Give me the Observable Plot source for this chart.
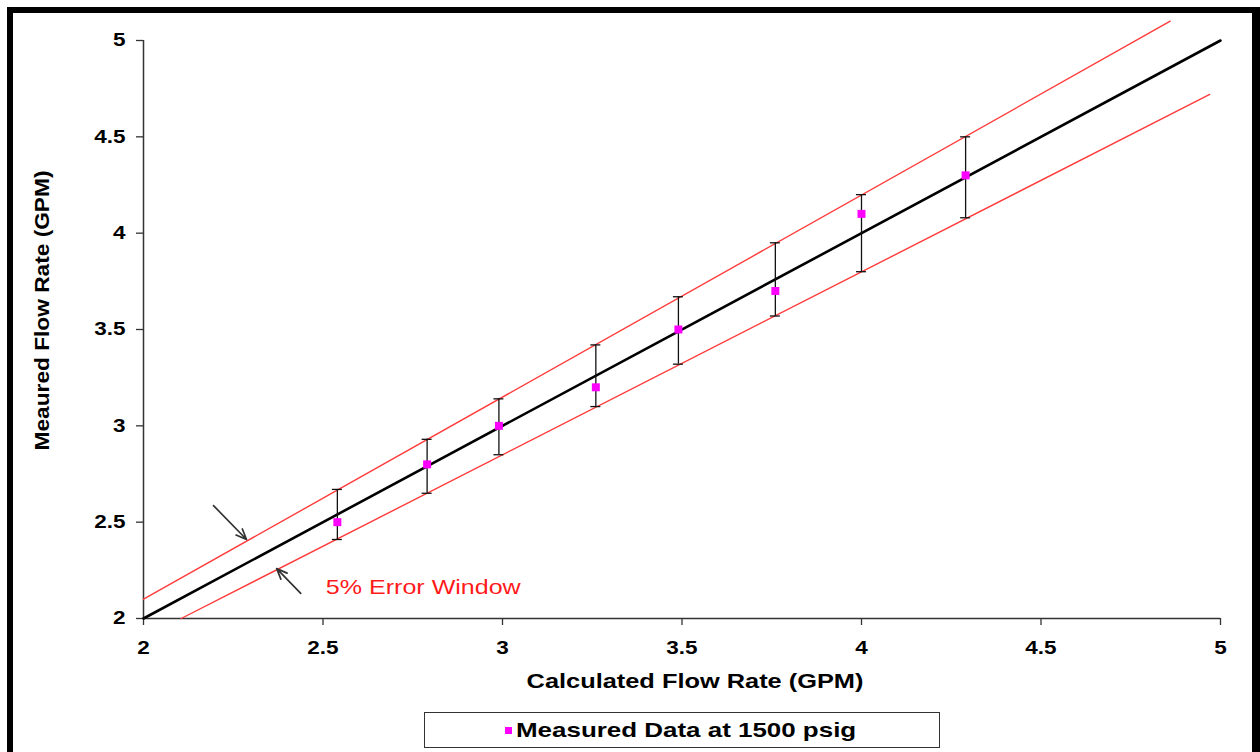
<!DOCTYPE html>
<html>
<head>
<meta charset="utf-8">
<script src="https://cdn.jsdelivr.net/npm/d3@7"></script>
<script src="https://cdn.jsdelivr.net/npm/@observablehq/plot@0.6"></script>
<style>
  html, body { margin: 0; padding: 0; background: #fff; overflow: hidden; width: 1260px; height: 752px; }
  #chart { position: absolute; left: 0; top: 0; }
  #frame { position: absolute; left: 7px; top: 7px; width: 1253px; height: 800px; box-sizing: border-box;
           border-style: solid; border-color: #000; border-width: 6px 8px 0 6px; pointer-events: none; z-index: 5; }
  #legend { position: absolute; left: 424px; top: 712px; width: 516px; height: 36px; box-sizing: border-box;
            border: 1.5px solid #333; background: #fff; font-family: "Liberation Sans", Arial, sans-serif; }
  #legend .sw { position: absolute; left: 80px; top: 14px; width: 7px; height: 7px; background: #ff00ff; }
  #legend .lab { position: absolute; left: 91px; top: 5px; font-size: 21px; font-weight: bold; color: #000;
                 white-space: nowrap; transform: scaleX(1.235); transform-origin: left center; line-height: 24px; }
</style>
</head>
<body>
<div id="chart"></div>
<div id="frame"></div>
<div id="legend"><div class="sw"></div><div class="lab">Measured Data at 1500 psig</div></div>
<script>
// ---- data ----
const calculated = [2.54, 2.79, 2.99, 3.26, 3.49, 3.76, 4.00, 4.29];   // x (GPM)
const measured   = [2.50, 2.80, 3.00, 3.20, 3.50, 3.70, 4.10, 4.30];   // y (GPM)
const errHigh    = [2.67, 2.93, 3.14, 3.42, 3.67, 3.95, 4.20, 4.50];
const errLow     = [2.41, 2.65, 2.85, 3.10, 3.32, 3.57, 3.80, 4.08];

const idealX = [2, 5];        const idealY = [2, 5];
const upperX = [2, 4.86];     const upperY = [2.10, 5.10];
const lowerX = [2.105, 4.97]; const lowerY = [2.00, 4.72];

const arrowFrom = [[2.195, 2.586], [2.438, 2.130]];
const arrowTo   = [[2.287, 2.410], [2.371, 2.259]];

const annotation = {text: "5% Error Window", x: 2.508, y: 2.161};

const xTicks = [2, 2.5, 3, 3.5, 4, 4.5, 5];
const yTicks = [2, 2.5, 3, 3.5, 4, 4.5, 5];
const xLabel = "Calculated Flow Rate (GPM)";
const yLabel = "Meaured Flow Rate (GPM)";

// ---- build tables ----
const points = calculated.map((x, i) => ({x, y: measured[i], lo: errLow[i], hi: errHigh[i]}));
const toLine = (xs, ys) => xs.map((x, i) => ({x, y: ys[i]}));
const arrows = arrowFrom.map((f, i) => ({x1: f[0], y1: f[1], x2: arrowTo[i][0], y2: arrowTo[i][1]}));
const fmt = d => String(d);

const plot = Plot.plot({
  width: 1260,
  height: 700,
  marginLeft: 143,
  marginRight: 40,
  marginTop: 40,
  marginBottom: 82,
  style: {fontFamily: "'Liberation Sans', Arial, sans-serif", fontSize: "18px", fontWeight: "bold", color: "#000", background: "transparent", overflow: "visible"},
  x: {domain: [2, 5], ticks: xTicks, label: null},
  y: {domain: [2, 5], ticks: yTicks, label: null},
  marks: [
    Plot.ruleY([2], {stroke: "#333", strokeWidth: 1.5}),
    Plot.ruleX([2], {stroke: "#333", strokeWidth: 1.5}),
    Plot.axisX({ticks: xTicks, tickFormat: fmt, tickSize: 7, tickPadding: 16, stroke: "#333", strokeWidth: 1.3, label: null, fill: "#000"}),
    Plot.axisY({ticks: yTicks, tickFormat: fmt, tickSize: 7, tickPadding: 11, stroke: "#333", strokeWidth: 1.3, label: null, fill: "#000"}),
    Plot.line(toLine(upperX, upperY), {x: "x", y: "y", stroke: "#ff3b3b", strokeWidth: 1.4}),
    Plot.line(toLine(lowerX, lowerY), {x: "x", y: "y", stroke: "#ff3b3b", strokeWidth: 1.4}),
    Plot.line(toLine(idealX, idealY), {x: "x", y: "y", stroke: "#000", strokeWidth: 2.6}),
    Plot.ruleX(points, {x: "x", y1: "lo", y2: "hi", stroke: "#111", strokeWidth: 1.3}),
    Plot.ruleY(points, {y: "hi", x1: "x", x2: "x", insetLeft: -5, insetRight: -5, stroke: "#111", strokeWidth: 1.3}),
    Plot.ruleY(points, {y: "lo", x1: "x", x2: "x", insetLeft: -5, insetRight: -5, stroke: "#111", strokeWidth: 1.3}),
    Plot.dot(points, {x: "x", y: "y", symbol: "square", r: 4.5, fill: "#ff00ff", stroke: null}),
    Plot.arrow(arrows, {x1: "x1", y1: "y1", x2: "x2", y2: "y2", stroke: "#333", strokeWidth: 1.7, headLength: 10, headAngle: 45}),
    Plot.text([annotation], {x: "x", y: "y", text: "text", textAnchor: "start", fill: "#ff1a1a", fontSize: 20, fontWeight: "normal"}),
    Plot.text([xLabel], {frameAnchor: "bottom", text: d => d, textAnchor: "middle", lineAnchor: "middle", dx: 13, dy: 63, fontSize: 21, fontWeight: "bold", fill: "#000"}),
    Plot.text([yLabel], {frameAnchor: "left", text: d => d, textAnchor: "middle", lineAnchor: "middle", rotate: -90, dx: -101, dy: -19, fontSize: 21, fontWeight: "bold", fill: "#000"})
  ]
});
document.getElementById("chart").appendChild(plot);

// horizontal stretch (along the text direction) to mimic the reference's wide glyphs
const targets = {};
targets[xLabel] = 337;
targets[yLabel] = 280;
targets[annotation.text] = 195;
plot.querySelectorAll("text").forEach(t => {
  const s = t.textContent;
  const w = t.getComputedTextLength();
  if (!w) return;
  const k = targets[s] ? targets[s] / w : 1.25;
  let tr = t.getAttribute("transform");
  if (!tr) {
    const x = +t.getAttribute("x") || 0, y = +t.getAttribute("y") || 0;
    tr = `translate(${x},${y})`;
    t.setAttribute("x", 0); t.setAttribute("y", 0);
  }
  t.setAttribute("transform", `${tr} scale(${k},1)`);
});
</script>
</body>
</html>
